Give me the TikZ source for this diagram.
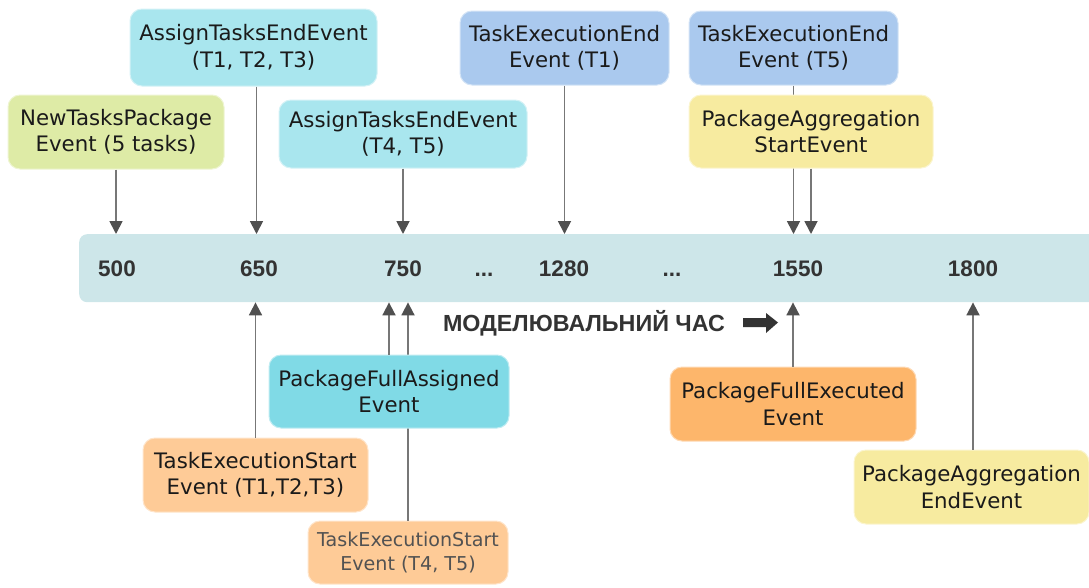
\documentclass[tikz,border=0pt]{standalone}
\usepackage{fontspec}
\setmainfont{DejaVu Sans}
\newfontfamily\barfont{Liberation Sans}
\usetikzlibrary{arrows.meta}
\definecolor{cGreen}{HTML}{DEEBA6}
\definecolor{cCyan}{HTML}{A9E6EE}
\definecolor{cCyanD}{HTML}{80DAE6}
\definecolor{cBlue}{HTML}{AAC9EE}
\definecolor{cYellow}{HTML}{F7EBA0}
\definecolor{cOrangeL}{HTML}{FECB97}
\definecolor{cOrange}{HTML}{FDB66B}
\definecolor{cBar}{HTML}{CDE6E9}
\definecolor{cLine}{HTML}{777777}
\definecolor{cHead}{HTML}{505050}
\definecolor{cText}{HTML}{1A1A1A}
\definecolor{cNum}{HTML}{333333}
\begin{document}
\begin{tikzpicture}[x=1pt,y=-1pt,
  evbox/.style={rectangle, rounded corners=12pt, align=center, inner sep=0pt,
    font=\fontsize{21.3}{26.5}\selectfont, text=cText, line width=1pt},
  tlabel/.style={anchor=base, font=\barfont\bfseries\fontsize{22.5}{26}\selectfont, text=cNum},
  conn/.style={draw=cLine, line width=1.8pt},
  arr/.style={conn, -{Triangle[width=13pt,length=13pt,color=cHead]}}]
\useasboundingbox (0,0) rectangle (1089,587);
\clip (0,0) rectangle (1089,587);
% timeline bar
\node[rectangle, rounded corners=8pt, fill=cBar, minimum width=1040pt, minimum height=68pt,
  anchor=north west, inner sep=0pt] (bar) at (79,234) {};
\node[tlabel] (t500) at (117,276) {500};
\node[tlabel] (t650) at (259,276) {650};
\node[tlabel] (t750) at (403,276) {750};
\node[tlabel] (td1) at (484,276) {...};
\node[tlabel] (t1280) at (564,276) {1280};
\node[tlabel] (td2) at (672,276) {...};
\node[tlabel] (t1550) at (798,276) {1550};
\node[tlabel] (t1800) at (973,276) {1800};
\node[tlabel, font=\barfont\bfseries\fontsize{23.3}{26}\selectfont] (cap) at (584,331) {МОДЕЛЮВАЛЬНИЙ ЧАС};
\fill[cNum] (743,318) -- (766,318) -- (766,313) -- (778,322.5) -- (766,333) -- (766,327) -- (743,327) -- cycle;
% boxes
\node[evbox, fill=cGreen, draw=cGreen!50!white, minimum width=216pt, minimum height=74pt] (ntp) at (116,132) {NewTasksPackage\\Event (5 tasks)};
\node[evbox, fill=cCyan, draw=cCyan!50!white, minimum width=247pt, minimum height=77pt] (ate1) at (253.5,47.5) {AssignTasksEndEvent\\(T1, T2, T3)};
\node[evbox, fill=cCyan, draw=cCyan!50!white, minimum width=248pt, minimum height=68pt] (ate2) at (403,134) {AssignTasksEndEvent\\(T4, T5)};
\node[evbox, fill=cBlue, draw=cBlue!50!white, minimum width=209pt, minimum height=74pt] (tee1) at (564.5,48) {TaskExecutionEnd\\Event (T1)};
\node[evbox, fill=cBlue, draw=cBlue!50!white, minimum width=209pt, minimum height=74pt] (tee5) at (793.5,48) {TaskExecutionEnd\\Event (T5)};
\node[evbox, fill=cOrangeL, draw=cOrangeL!50!white, minimum width=225pt, minimum height=74pt] (tes1) at (255.5,475) {TaskExecutionStart\\Event (T1,T2,T3)};
\node[evbox, fill=cOrangeL, draw=cOrangeL!50!white, minimum width=200pt, minimum height=63pt,
  font=\fontsize{19.1}{24.5}\selectfont, text=cNum!85!white] (tes2) at (408,552.5) {TaskExecutionStart\\Event (T4, T5)};
\node[evbox, fill=cOrange, draw=cOrange!50!white, minimum width=246pt, minimum height=74pt] (pfe) at (793,404) {PackageFullExecuted\\Event};
\node[evbox, fill=cYellow, draw=cYellow!50!white, minimum width=235pt, minimum height=74pt] (pae) at (971.5,487) {PackageAggregation\\EndEvent};
% connectors
\draw[arr] (ntp.south) -- (ntp.south |- bar.north);
\draw[arr] ([xshift=3pt]ate1.south) -- ([xshift=3pt]ate1.south |- bar.north);
\draw[arr] (ate2.south) -- (ate2.south |- bar.north);
\draw[arr] (tee1.south) -- (tee1.south |- bar.north);
\draw[arr] (tee5.south) -- (tee5.south |- bar.north);
\draw[arr] (tes1.north) -- (tes1.north |- bar.south);
\draw[arr] (tes2.north) -- (tes2.north |- bar.south);
\draw[arr] (pfe.north) -- (pfe.north |- bar.south);
\draw[arr] ([xshift=1.5pt]pae.north) -- ([xshift=1.5pt]pae.north |- bar.south);
% boxes drawn over passing lines
\node[evbox, fill=cYellow, draw=cYellow!50!white, minimum width=244pt, minimum height=73pt] (pas) at (811,131.5) {PackageAggregation\\StartEvent};
\node[evbox, fill=cCyanD, draw=cCyanD!50!white, minimum width=240pt, minimum height=73pt] (pfa) at (389,391.5) {PackageFullAssigned\\Event};
\draw[arr] (pas.south) -- (pas.south |- bar.north);
\draw[arr] (pfa.north) -- (pfa.north |- bar.south);
\end{tikzpicture}
\end{document}
